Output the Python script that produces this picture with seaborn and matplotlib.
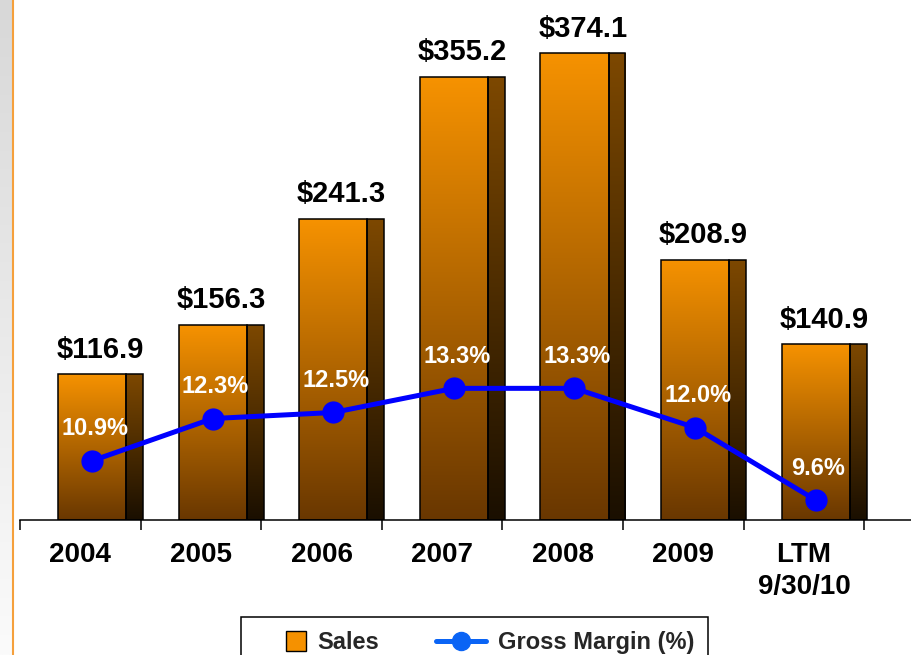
import numpy as np
import matplotlib
matplotlib.use("Agg")
import matplotlib.pyplot as plt
import matplotlib.colors as mcolors
from matplotlib.lines import Line2D
from matplotlib.patches import Patch, Rectangle
from matplotlib.legend_handler import HandlerPatch
import pandas as pd
import seaborn as sns

periods = ["2004", "2005", "2006", "2007", "2008", "2009", "LTM\n9/30/10"]
sales = [116.9, 156.3, 241.3, 355.2, 374.1, 208.9, 140.9]
gross_margin = [10.9, 12.3, 12.5, 13.3, 13.3, 12.0, 9.6]
sales_labels = [f"${v:.1f}" for v in sales]
margin_labels = [f"{v:.1f}%" for v in gross_margin]

df = pd.DataFrame({"period": periods, "sales": sales, "margin": gross_margin})

sns.set_theme(style="white")
plt.rcParams["font.family"] = ["Liberation Sans", "DejaVu Sans"]
plt.rcParams["font.weight"] = "bold"

# bar geometry (front face + darker side face for the pseudo-3D look)
FRONT_W, FRONT_SHIFT = 0.565, 0.0975
SIDE_W, SIDE_SHIFT = 0.14, 0.45
LABEL_SHIFT = 0.1675


def fill_gradient(ax, patch, top_color, bottom_color):
    x0, y0 = patch.get_x(), patch.get_y()
    w, h = patch.get_width(), patch.get_height()
    cmap = mcolors.LinearSegmentedColormap.from_list("g", [bottom_color, top_color])
    grad = np.linspace(0, 1, 256).reshape(-1, 1)
    im = ax.imshow(grad, cmap=cmap, origin="lower", extent=(x0, x0 + w, y0, y0 + h),
                   aspect="auto", zorder=1.5, interpolation="bilinear")
    im.set_clip_path(patch)
    patch.set_facecolor("none")
    patch.set_edgecolor("black")
    patch.set_linewidth(1.1)
    patch.set_zorder(2)


def square_patch(legend, orig_handle, xdescent, ydescent, width, height, fontsize):
    side = 14.5
    return Rectangle((width - xdescent - side, -ydescent + (height - side) / 2), side, side)


fig = plt.figure(figsize=(9.11, 6.55), dpi=100)
ax = fig.add_axes([20 / 911, 135 / 655, 891 / 911, 520 / 655])

sns.barplot(data=df, x="period", y="sales", width=FRONT_W, color="#F59100",
            saturation=1, errorbar=None, ax=ax)
sns.barplot(data=df, x="period", y="sales", width=SIDE_W, color="#6B3C00",
            saturation=1, errorbar=None, ax=ax)

n = len(periods)
front_bars = ax.patches[:n]
side_bars = ax.patches[n:2 * n]
for p in front_bars:
    p.set_x(p.get_x() + FRONT_SHIFT)
    fill_gradient(ax, p, "#F69200", "#693700")
for p in side_bars:
    p.set_x(p.get_x() + SIDE_SHIFT)
    fill_gradient(ax, p, "#7D4800", "#1A0F00")

for i, (v, lab) in enumerate(zip(sales, sales_labels)):
    ax.annotate(lab, (i + LABEL_SHIFT, v), xytext=(0, 12), textcoords="offset points",
                ha="center", va="baseline", fontsize=21, fontweight="bold", color="black")

ax2 = ax.twinx()
x_pts = np.arange(n) + FRONT_SHIFT
sns.lineplot(x=x_pts, y=gross_margin, ax=ax2, color="#0000FF", linewidth=3.6,
             marker="o", markersize=16, markeredgewidth=0, legend=False, zorder=4)
for x, v, lab in zip(x_pts, gross_margin, margin_labels):
    ax2.annotate(lab, (x, v), xytext=(2, 23), textcoords="offset points",
                 ha="center", va="center", fontsize=17, fontweight="bold",
                 color="white", zorder=5)

ax.set_xlim(-0.5, 6.888)
ax.set_ylim(0, 417)
ax2.set_ylim(8.94, 26.16)
ax.set_xlabel("")
ax.set_ylabel("")
ax2.set_ylabel("")
ax.set_xticks(range(n))
ax.set_xticklabels(periods, fontsize=20, fontweight="bold", color="black")
for t in ax.get_xticklabels():
    t.set_linespacing(1.3)
ax.set_xticks(np.arange(-0.5, n, 1), minor=True)
ax.tick_params(axis="x", which="major", length=0, pad=16)
ax.tick_params(axis="x", which="minor", length=7, width=1.1, color="black",
               direction="out", bottom=True)
ax.tick_params(axis="y", which="both", left=False, right=False,
               labelleft=False, labelright=False)
ax2.tick_params(axis="y", which="both", left=False, right=False,
                labelleft=False, labelright=False)
for side in ["top", "left", "right"]:
    ax.spines[side].set_visible(False)
ax.spines["bottom"].set_color("black")
ax.spines["bottom"].set_linewidth(1.1)
for s in ax2.spines.values():
    s.set_visible(False)

sales_handle = Patch(facecolor="#F59100", edgecolor="black", linewidth=1.0)
margin_handle = Line2D([], [], color="#0A64F5", lw=3.6, marker="o", markersize=13)
leg = fig.legend([sales_handle, margin_handle], ["Sales", "Gross Margin (%)"],
                 loc="upper center", bbox_to_anchor=(0.521, 0.058), ncol=2,
                 frameon=True, fancybox=False, edgecolor="black", framealpha=1,
                 prop={"size": 17, "weight": "bold"}, handlelength=2.15,
                 handletextpad=0.47, columnspacing=2.4, borderpad=0.6,
                 borderaxespad=0,
                 handler_map={Patch: HandlerPatch(patch_func=square_patch)})
leg.get_frame().set_linewidth(1.1)

# grey strip and orange rule on the left edge
strip = fig.add_axes([0, 0, 12 / 911, 1])
strip.imshow(np.linspace(0, 1, 256).reshape(-1, 1), aspect="auto", extent=(0, 1, 0, 1),
             cmap=mcolors.LinearSegmentedColormap.from_list("s", ["#D8D8D8", "#FBFBFB"]))
strip.axis("off")
fig.add_artist(Line2D([13 / 911, 13 / 911], [0, 1], transform=fig.transFigure,
                      color="#F5A03C", lw=1.5))

fig.savefig("out.png", dpi=100)
